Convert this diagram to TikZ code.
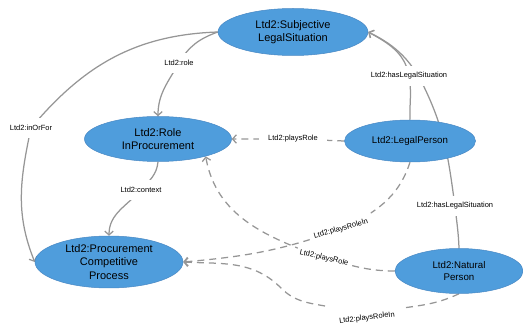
\documentclass[tikz,border=0pt]{standalone}
\usepackage{fontspec}
\setmainfont{Liberation Sans}
\usetikzlibrary{arrows.meta,shapes.geometric}
\definecolor{nodeblue}{RGB}{79,157,220}
\definecolor{nodeline}{RGB}{72,135,195}
\definecolor{edgegray}{RGB}{150,150,150}
\pgfdeclarelayer{bg}
\pgfsetlayers{bg,main}
\begin{document}
\begin{tikzpicture}[x=1pt,y=1pt,
  cls/.style={ellipse,fill=nodeblue,draw=nodeline,line width=0.5pt,inner sep=0pt,align=center,font=\fontsize{11}{13}\selectfont},
  clss/.style={cls,font=\fontsize{9.7}{12}\selectfont},
  lbl/.style={fill=white,inner xsep=5pt,inner ysep=7pt,font=\fontsize{7.5}{9}\selectfont},
  edge/.style={draw=edgegray,line width=1.25pt},
  arr/.style={-{Straight Barb[length=3.8pt,width=8.5pt]}},
  dsh/.style={dash pattern=on 7pt off 5pt}]
\useasboundingbox (0,0) rectangle (523,327);

\node[cls,minimum width=150pt,minimum height=47pt] (subj) at (293,295) {Ltd2:Subjective\\LegalSituation};
\node[cls,minimum width=147pt,minimum height=45pt] (role) at (158,188) {Ltd2:Role\\InProcurement};
\node[clss,minimum width=131pt,minimum height=42pt] (lp) at (410,186) {Ltd2:LegalPerson};
\node[cls,font=\fontsize{11}{13.5}\selectfont,minimum width=148pt,minimum height=52pt] (proc) at (109,65) {Ltd2:Procurement\\Competitive\\Process};
\node[clss,minimum width=128pt,minimum height=45pt] (nat) at (459,56) {Ltd2:Natural\\Person};

\node[lbl] (lrole) at (179,264) {Ltd2:role};
\node[lbl] (lio) at (31,199) {Ltd2:inOrFor};
\node[lbl] (lctx) at (141,137) {Ltd2:context};
\node[lbl,inner xsep=9pt] (lpr1) at (293,188) {Ltd2:playsRole};
\node[lbl] (lhls1) at (409,251) {Ltd2:hasLegalSituation};
\node[lbl] (lhls2) at (455,121) {Ltd2:hasLegalSituation};
\node[lbl,rotate=16,inner ysep=5pt] (lpri1) at (341,98) {Ltd2:playsRoleIn};
\node[lbl,rotate=-13,inner xsep=3pt,inner ysep=1.5pt] (lpr2) at (324,69) {Ltd2:playsRole};
\node[lbl,rotate=7,inner ysep=2pt] (lpri2) at (367,9) {Ltd2:playsRoleIn};

\coordinate (hc) at (426,236);
\coordinate (c1) at (325,21);
\coordinate (c2) at (403,19);
\coordinate (cm) at (281,39);

\begin{pgfonlayer}{bg}
\draw[edge,arr] (subj.west) to[out=200,in=60] (lrole.center) to[out=240,in=90] (role.north);
\draw[edge,arr] (subj.west) to[out=182,in=50] (lio.center) to[out=258,in=112] (proc.west);
\draw[edge,arr] (role.south) to[out=265,in=48] (lctx.center) to[out=228,in=90] (proc.north);
\draw[edge,dsh,arr] (lp.west) -- (lpr1.center) -- (role.east);
\draw[edge,arr] (lp.north) to[out=92,in=-80] (lhls1.center) to[out=100,in=-29] (subj.east);
\draw[edge,arr] (nat.north) to[out=92,in=-84] (lhls2.center) to[out=98,in=-65] (hc) to[out=115,in=-26] (subj.east);
\draw[edge,dsh,arr] (lp.south) to[out=252,in=25] (lpri1.center) to[out=200,in=5] (proc.east);
\draw[edge,dsh,arr] (nat.west) to[out=180,in=-15] (lpr2.center) to[out=160,in=-80] (role.-20);
\draw[edge,dsh] (nat.south) to[out=205,in=8] (c2);
\draw[edge,dsh,arr] (c1) to[out=170,in=-45] (cm) to[out=135,in=-3] (proc.east);
\end{pgfonlayer}
\end{tikzpicture}
\end{document}
